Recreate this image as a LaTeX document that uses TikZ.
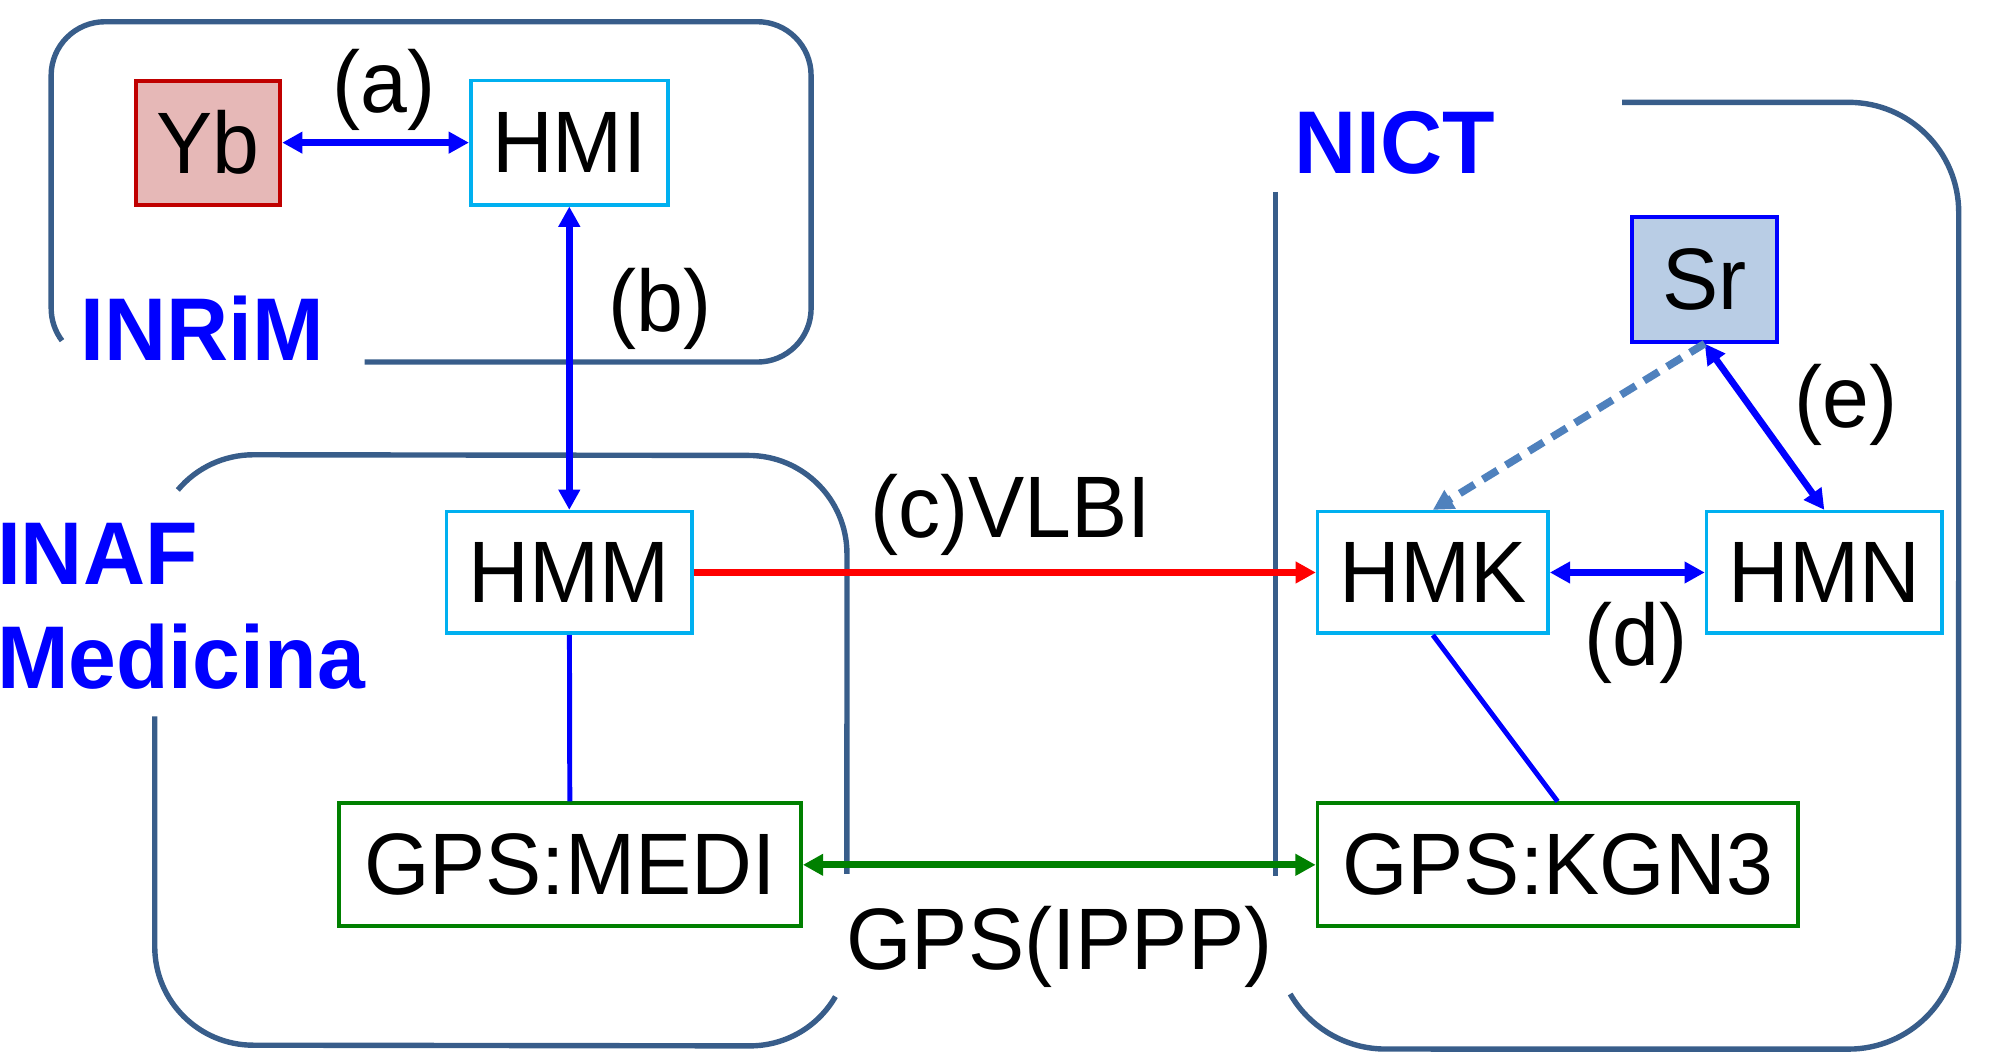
\documentclass[tikz,border=0pt]{standalone}
\usepackage{fontspec}
\setmainfont[FakeStretch=0.965]{Liberation Sans}
\usetikzlibrary{arrows.meta}
\definecolor{grp}{RGB}{56,93,138}
\definecolor{cyanb}{RGB}{0,176,240}
\definecolor{ybfill}{RGB}{230,184,183}
\definecolor{ybdraw}{RGB}{192,0,0}
\definecolor{srfill}{RGB}{185,205,229}
\definecolor{gpsg}{RGB}{0,128,0}
\definecolor{dashb}{RGB}{79,129,189}
\tikzset{
  every node/.style={font=\fontsize{19.4}{23}\selectfont},
  grpline/.style={draw=grp, line width=1.2pt},
  title/.style={text=blue, font=\fontsize{19.8}{23}\selectfont\bfseries, inner sep=0pt, anchor=base west},
  lbl/.style={inner sep=0pt, anchor=base},
  hmbox/.style={draw=cyanb, line width=0.8pt, fill=white, minimum height=0.95cm, inner sep=0pt},
  gpsbox/.style={draw=gpsg, line width=0.85pt, fill=white, minimum height=0.96cm, inner sep=0pt},
  ybbox/.style={draw=ybdraw, fill=ybfill, line width=0.9pt, minimum width=1.13cm, minimum height=0.97cm, inner sep=0pt},
  srbox/.style={draw=blue, fill=srfill, line width=0.9pt, minimum width=1.13cm, minimum height=0.97cm, inner sep=0pt},
  tipend/.tip={Triangle[length=4.5pt,width=4.6pt]},
  duo/.style={draw=blue, line width=1.5pt, tipend-tipend},
  redarr/.style={draw=red, line width=1.5pt, -tipend},
  greenarr/.style={draw=gpsg, line width=1.5pt, tipend-tipend},
  dasharr/.style={draw=dashb, line width=1.7pt, dash pattern=on 3.8pt off 2.2pt, -tipend},
  plainlink/.style={draw=blue, line width=1.1pt}
}
\begin{document}
\begin{tikzpicture}[x=0.01cm,y=-0.01cm]
\useasboundingbox (0,0) rectangle (1568,825);
% group outlines
\draw[grpline] (285,283) -- (592,283) arc[start angle=-90,end angle=0,radius=0.42cm] -- (634,59) arc[start angle=0,end angle=90,radius=0.42cm] -- (82,17) arc[start angle=90,end angle=180,radius=0.42cm] -- (40,241) arc[start angle=180,end angle=217,radius=0.42cm];
\draw[grpline] (139,383) arc[start angle=140,end angle=90,radius=0.77cm] -- (585,356) arc[start angle=90,end angle=0,radius=0.77cm] -- (662,683);
\draw[grpline] (653,779) arc[start angle=-30,end angle=-90,radius=0.77cm] -- (198,817) arc[start angle=-90,end angle=-180,radius=0.77cm] -- (121,560);
\draw[grpline] (1268,80) -- (1445,80) arc[start angle=90,end angle=0,radius=0.86cm] -- (1531,734) arc[start angle=0,end angle=-90,radius=0.86cm] -- (1083,820) arc[start angle=-90,end angle=-150,radius=0.86cm];
\draw[grpline] (997,150) -- (997,685);
% titles
\node[title] (inrim) at (62,282) {INRiM};
\node[title] (nict) at (1011,136) {NICT};
\node[title] (inaf) at (-3,457) {INAF};
\node[title] (medicina) at (-3,538) {Medicina};
% nodes
\node[ybbox] (yb) at (162.5,111.5) {Yb};
\node[hmbox, minimum width=1.54cm, minimum height=0.97cm] (hmi) at (445,111.5) {HMI};
\node[hmbox, minimum width=1.92cm] (hmm) at (445,447.5) {HMM};
\node[gpsbox, minimum width=3.61cm] (medi) at (445.5,676) {GPS:MEDI};
\node[srbox] (sr) at (1332.5,218.5) {Sr};
\node[hmbox, minimum width=1.80cm] (hmk) at (1120,447.5) {HMK};
\node[hmbox, minimum width=1.84cm] (hmn) at (1426,447.5) {HMN};
\node[gpsbox, minimum width=3.75cm] (kgn) at (1217.5,676) {GPS:KGN3};
% labels
\node[lbl] (la) at (300,88) {(a)};
\node[lbl] (lb) at (516,259) {(b)};
\node[lbl] (lc) at (790,420) {(c)VLBI};
\node[lbl] (ld) at (1279,520) {(d)};
\node[lbl] (le) at (1443,334) {(e)};
\node[lbl] (lg) at (828,758) {GPS(IPPP)};
% connectors
\draw[duo] (yb) -- (hmi);
\draw[duo] (hmi) -- (hmm);
\draw[redarr] (hmm) -- (hmk);
\draw[greenarr] (medi) -- (kgn);
\draw[duo] (hmk) -- (hmn);
\draw[duo] (sr.south) -- (hmn.north);
\draw[dasharr] (sr.south) -- (hmk.north);
\draw[plainlink] (hmm) -- (medi);
\draw[plainlink] (hmk.south) -- (kgn.north);
\end{tikzpicture}
\end{document}
